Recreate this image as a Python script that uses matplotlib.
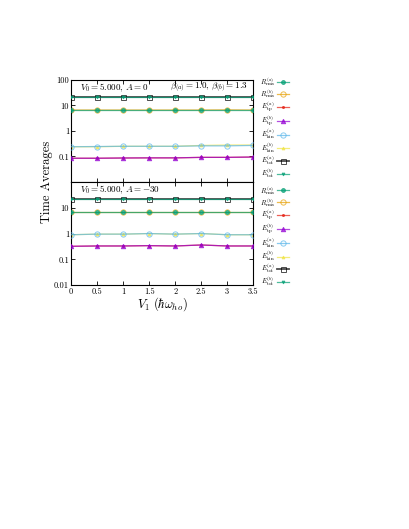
import matplotlib
matplotlib.use("Agg")
import matplotlib.pyplot as plt
from matplotlib.ticker import FixedLocator, FuncFormatter, NullLocator

plt.rcParams["font.family"] = "serif"
plt.rcParams["font.serif"] = ["cmr10", "DejaVu Serif"]
plt.rcParams["mathtext.fontset"] = "cm"
plt.rcParams["axes.formatter.use_mathtext"] = True

V1 = [0, 0.5, 1, 1.5, 2, 2.5, 3, 3.5]
xtick_labels = ["0", "0.5", "1", "1.5", "2", "2.5", "3", "3.5"]

# panel A = 0
top_rrms_a = [6.6, 6.6, 6.6, 6.6, 6.6, 6.6, 6.6, 6.6]
top_rrms_b = [6.6, 6.6, 6.6, 6.6, 6.6, 6.6, 6.7, 6.6]
top_etp_a = [0.085, 0.085, 0.087, 0.088, 0.088, 0.092, 0.092, 0.095]
top_etp_b = [0.085, 0.085, 0.087, 0.088, 0.088, 0.092, 0.092, 0.095]
top_ekin_a = [0.24, 0.245, 0.25, 0.25, 0.25, 0.26, 0.26, 0.27]
top_ekin_b = [0.24, 0.24, 0.25, 0.25, 0.25, 0.27, 0.28, 0.28]
top_etot_a = [21, 21, 21, 21, 21, 21, 21, 21]
top_etot_b = [21, 21, 21, 21, 21, 21, 21, 21]

# panel A = -30
bot_rrms_a = [6.6, 6.6, 6.6, 6.6, 6.6, 6.6, 6.6, 6.6]
bot_rrms_b = [6.6, 6.6, 6.6, 6.6, 6.6, 6.6, 6.6, 6.6]
bot_etp_a = [0.32, 0.33, 0.33, 0.34, 0.33, 0.36, 0.33, 0.33]
bot_etp_b = [0.32, 0.33, 0.33, 0.34, 0.33, 0.36, 0.33, 0.33]
bot_ekin_a = [0.9, 0.95, 0.95, 1.0, 0.95, 1.0, 0.9, 0.9]
bot_ekin_b = [0.9, 0.95, 0.95, 1.0, 0.95, 1.0, 0.9, 0.9]
bot_etot_a = [21, 21, 21, 21, 21, 21, 21, 21]
bot_etot_b = [21, 21, 21, 21, 21, 21, 21, 21]

labels = [r"$R^{(a)}_{\rm rms}$", r"$R^{(b)}_{\rm rms}$", r"$E^{(a)}_{\rm tp}$", r"$E^{(b)}_{\rm tp}$",
          r"$E^{(a)}_{\rm kin}$", r"$E^{(b)}_{\rm kin}$", r"$E^{(a)}_{\rm tot}$", r"$E^{(b)}_{\rm tot}$"]
# color, marker, facecolor, markersize, zorder
styles = [("#009e73", "o", "#009e73", 2.8, 3), ("#e69f00", "o", "none", 3.8, 2), ("#e51e10", "o", "#e51e10", 1.5, 2),
          ("#9400d3", "^", "#9400d3", 3.2, 3), ("#56b4e9", "o", "none", 3.8, 3), ("#f0e442", "^", "#f0e442", 2, 2),
          ("#000000", "s", "none", 3.6, 2), ("#009e73", "v", "#009e73", 2, 3)]

yticks = [0.01, 0.1, 1, 10, 100]


def fmt(v, pos):
    return "%g" % v


fig = plt.figure(figsize=(4.09, 5.29), dpi=100)
ax1 = fig.add_axes([0.174, 0.656, 0.445, 0.193])
ax2 = fig.add_axes([0.174, 0.461, 0.445, 0.195])

panels = [(ax1, [top_rrms_a, top_rrms_b, top_etp_a, top_etp_b, top_ekin_a, top_ekin_b, top_etot_a, top_etot_b]),
          (ax2, [bot_rrms_a, bot_rrms_b, bot_etp_a, bot_etp_b, bot_ekin_a, bot_ekin_b, bot_etot_a, bot_etot_b])]

for ax, series in panels:
    for ys, lab, (c, m, fc, ms, z) in zip(series, labels, styles):
        lw = 1.3 if c == "#000000" else 0.9
        ax.plot(V1, ys, color=c, marker=m, markerfacecolor=fc, markeredgecolor=c,
                markersize=ms, markeredgewidth=0.7, linewidth=lw, alpha=0.7, label=lab, zorder=z)
    ax.set_yscale("log")
    ax.set_ylim(0.01, 100)
    ax.set_xlim(0, 3.5)
    ax.yaxis.set_major_locator(FixedLocator(yticks))
    ax.yaxis.set_minor_locator(NullLocator())
    ax.yaxis.set_major_formatter(FuncFormatter(fmt))
    ax.set_xticks(V1)
    ax.tick_params(direction="in", top=True, right=True, labelsize=6, length=3, width=0.6, pad=1.5)
    for s in ax.spines.values():
        s.set_linewidth(0.8)

leg_kw = dict(loc="upper left", frameon=False, fontsize=5.0, markerfirst=False, handlelength=1.8,
              labelspacing=0.0, borderaxespad=0.2, borderpad=0.2, handletextpad=0.3)
ax1.legend(bbox_to_anchor=(1.02, 1.06), **leg_kw)
ax2.legend(bbox_to_anchor=(1.02, 1.0), **leg_kw)

ax1.set_xticklabels([])
ax1.set_yticks(yticks)
ax1.set_yticklabels(["", "0.1", "1", "10", "100"])
ax2.set_xticklabels(xtick_labels)
ax2.set_yticklabels(["0.01", "0.1", "1", "10", ""])

ax1.text(0.05, 0.92, r"$V_0=5.000,\,A=0$", transform=ax1.transAxes, fontsize=6.5, va="center")
ax1.text(0.97, 0.92, r"$\beta_{(a)}=1.0,\,\beta_{(b)}=1.3$", transform=ax1.transAxes,
         fontsize=6.5, va="center", ha="right")
ax2.text(0.05, 0.92, r"$V_0=5.000,\,A=-30$", transform=ax2.transAxes, fontsize=6.5, va="center")

ax2.set_xlabel(r"$V_1\ (\hbar\omega_{ho})$", fontsize=9, labelpad=0)
fig.text(0.115, 0.656, "Time Averages", rotation=90, fontsize=9, ha="center", va="center")

fig.savefig("out.png", dpi=100)
